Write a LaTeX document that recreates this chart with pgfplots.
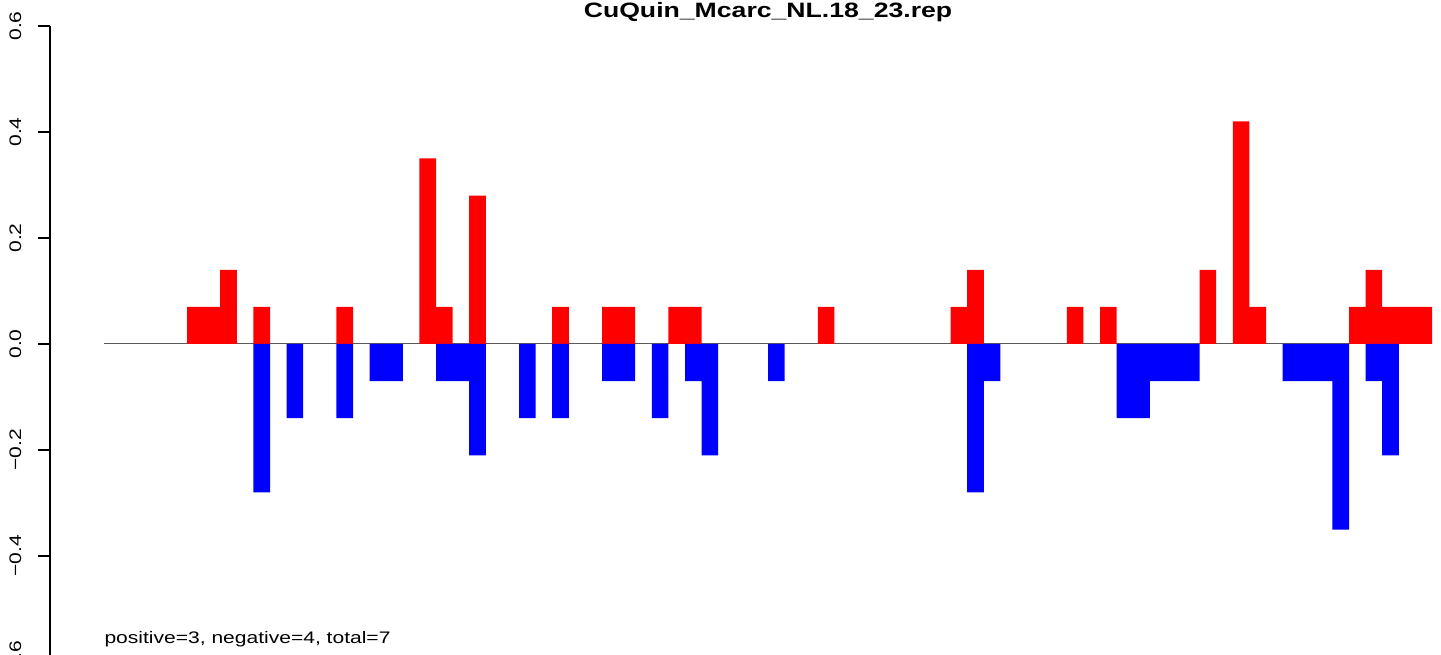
\documentclass[border=0pt]{standalone}
\usepackage{pgfplots}
\pgfplotsset{compat=1.18}
\usepackage{fontspec}
\setmainfont{Liberation Sans}
\begin{document}
\begin{tikzpicture}
\begin{axis}[
  name=ax,
  at={(0,0)}, anchor=south west,
  scale only axis, width=695.5pt, height=318pt,
  xmin=-3.253, xmax=80.542,
  ymin=-0.6, ymax=0.6,
  axis x line=none,
  axis y line*=left,
  axis line style={line width=0.6pt, black, -},
  ytick={-0.6,-0.4,-0.2,0,0.2,0.4,0.6},
  yticklabels={−0.6,−0.4,−0.2,0.0,0.2,0.4,0.6},
  ytick align=outside,
  major tick length=6pt,
  ytick style={line width=0.6pt, black},
  yticklabel shift=8.5pt,
  yticklabel style={rotate=90, anchor=base, xscale=1.26, font=\fontsize{8.35}{10}\selectfont},
  clip=false,
]
\addplot[color=black!65, line width=0.5pt] coordinates {(0,0) (80,0)};
\addplot[ybar, bar width=1, bar shift=0, fill=red, draw=none] coordinates {
(5.5,0.07)(6.5,0.07)(7.5,0.14)(9.5,0.07)(14.5,0.07)(19.5,0.35)(20.5,0.07)(22.5,0.28)(27.5,0.07)(30.5,0.07)(31.5,0.07)(34.5,0.07)(35.5,0.07)(43.5,0.07)(51.5,0.07)(52.5,0.14)(58.5,0.07)(60.5,0.07)(66.5,0.14)(68.5,0.42)(69.5,0.07)(75.5,0.07)(76.5,0.14)(77.5,0.07)(78.5,0.07)(79.5,0.07)
};
\addplot[ybar, bar width=1, bar shift=0, fill=blue, draw=none] coordinates {
(9.5,-0.28)(11.5,-0.14)(14.5,-0.14)(16.5,-0.07)(17.5,-0.07)(20.5,-0.07)(21.5,-0.07)(22.5,-0.21)(25.5,-0.14)(27.5,-0.14)(30.5,-0.07)(31.5,-0.07)(33.5,-0.14)(35.5,-0.07)(36.5,-0.21)(40.5,-0.07)(52.5,-0.28)(53.5,-0.07)(61.5,-0.14)(62.5,-0.14)(63.5,-0.07)(64.5,-0.07)(65.5,-0.07)(71.5,-0.07)(72.5,-0.07)(73.5,-0.07)(74.5,-0.35)(76.5,-0.07)(77.5,-0.21)
};
\node[anchor=base west, inner sep=0pt, xscale=1.26, font=\fontsize{8.35}{10}\selectfont] at (axis cs:0,-0.566) {positive=3, negative=4, total=7};
\end{axis}
\node[anchor=base, xscale=1.28, font=\fontsize{10.4}{12}\selectfont\bfseries] at ([xshift=359pt, yshift=4.25pt]ax.north west) {CuQuin\_Mcarc\_NL.18\_23.rep};
\pgfresetboundingbox
\path[use as bounding box] ([xshift=-25pt, yshift=4pt]ax.south west) rectangle ([yshift=13pt]ax.north east);
\end{tikzpicture}
\end{document}
